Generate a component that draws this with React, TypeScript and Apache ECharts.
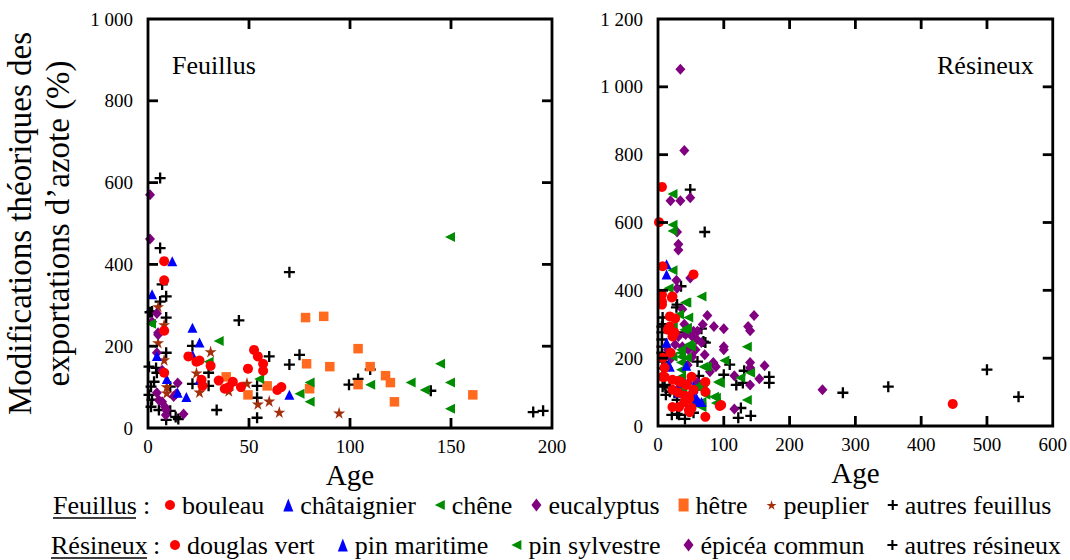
import React, { useEffect, useRef } from "react";
import * as echarts from "echarts";

// ---------- Feuillus (left panel) : [age, value] ----------
const bouleau = [[8,408],[8,361],[8,238],[8,135],[20,175],[24,162],[25.5,165],[31,152],[26.5,118],[27,103],[35,116],[38,96],[40,100],[42,113],[46,100],[49.5,145],[52.5,191],[54.4,175],[57,157],[57,140],[64,93],[66,100]];
const chataignier = [[12,408],[2,327],[22,245],[25.5,209],[22,179],[4.4,176],[9.3,120],[25.5,118],[19,76],[70,81],[14.7,86]];
const chene = [[1.5,255],[35,213],[30,162],[55,120],[149.5,467],[144.6,157],[149.5,111],[130,111],[137,93],[110,106],[80,111],[75,84],[80,64],[149.5,47]];
const eucalyptus = [[1,570],[1,462],[4.4,280],[2,260],[5,233],[5,228],[4.4,184],[7,141],[14.7,110],[4.4,86],[14,84],[12.7,77],[5.4,68],[7,64],[8.3,52],[8.8,32],[17.6,34],[9,44]];
const hetre = [[78,270],[87,273],[104,194],[78.5,157],[90,150],[110,150],[117.6,128],[120,111],[80,96],[104,106],[122,64],[160.8,81],[38.7,125],[59,103],[49.5,81]];
const peuplier = [[5,297],[8,253],[5,209],[8,167],[31,187],[24,135],[25.5,88],[49,110],[40,91],[60,66],[65,39],[54.4,59],[9.3,101],[9.3,86],[94.6,37]];
const autresFeuillus = [[6,611],[6,440],[7,351],[9,322],[6,309],[2,285],[1,283],[9,270],[45,263],[70,381],[22,201],[9,184],[0.5,150],[4,147],[60,175],[70,155],[30,135],[4.4,135],[3,113],[22,108],[30,103],[54,103],[54,74],[0.5,81],[2,69],[1.5,52],[5.4,44],[11,42],[34,44],[13.7,27],[15,22],[9,20],[54,25],[1.5,101],[11,101],[75,179],[99.5,106],[104,120],[110,143],[140,91],[190.7,39],[195.6,42]];

// ---------- Résineux (right panel) : [age, value] ----------
const douglasVert = [[6,705],[1.5,601],[7,471],[54,447],[6,388],[6,358],[21,379],[22,382],[26,317],[18,293],[25,276],[22,264],[19,216],[7,145],[7,201],[10,172],[22,107],[31,133],[41,89],[47,80],[22,56],[32,56],[48,41],[51,53],[72,27],[96,62],[31,98],[40,71],[448,65],[94,59],[72,130],[72,101],[18,323],[15,284],[10,145],[22,136],[35,130],[43,121],[54,107],[47,86],[47,47],[51,145],[6,367]];
const pinMaritime = [[13,477],[13,447],[13,246],[16,181],[43,178],[54,116],[31,101],[40,71],[62,71],[50,98],[18,175],[50,101],[40,80],[59,80],[66,71],[32,98]];
const pinSylvestre = [[22,684],[22,593],[22,575],[22,459],[16,406],[66,382],[41,364],[46,320],[22,293],[44,290],[135,234],[101,193],[74,175],[94,127],[140,157],[135,77],[88,83],[88,68],[68,127],[62,113],[66,71],[35,225],[35,204],[35,187],[35,166],[35,145],[37,107],[44,201],[50,234],[22,204],[125,142],[43,364],[32,329],[22,290],[40,284],[47,240],[35,216],[69,175],[59,116],[72,92],[85,86],[66,56],[50,71],[91,130]];
const epiceaCommun = [[34,1052],[40,812],[19,664],[34,664],[49,673],[29,572],[31,536],[31,519],[49,436],[28,430],[29,406],[37,344],[75,326],[146,326],[68,299],[85,293],[100,287],[137,293],[140,281],[54,279],[60,279],[52,264],[59,255],[31,264],[66,246],[100,234],[100,225],[37,234],[15,225],[46,225],[57,225],[71,210],[52,204],[84,187],[88,175],[79,160],[140,187],[140,172],[162,178],[116,148],[154,139],[140,121],[60,130],[46,127],[32,113],[37,121],[116,50],[54,98],[250,107],[93,65],[85,181],[40,300],[42,270],[26,240],[20,200],[45,180]];
const autresResineux = [[49,697],[71,572],[35,412],[28,350],[6,293],[6,276],[6,255],[6,234],[6,216],[40,276],[66,287],[72,246],[7,190],[60,190],[109,181],[131,163],[169,145],[169,127],[100,151],[119,121],[129,127],[62,148],[7,116],[18,113],[12,92],[21,33],[29,36],[41,21],[122,24],[126,53],[141,30],[25,98],[51,83],[500,166],[350,116],[281,98],[548,86],[7,320],[7,300],[7,170],[69,249],[10,121],[18,101],[29,77],[32,33],[54,39],[69,107],[29,358]];

// ---------- ticks ----------
const leftXTicks = { min: 0, max: 200, interval: 50 };
const leftYTicks = { min: 0, max: 1000, interval: 200 };
const rightXTicks = { min: 0, max: 600, interval: 100 };
const rightYTicks = { min: 0, max: 1200, interval: 200 };

const FONT = "Liberation Serif";

const SYM_LEFT_TRI = "path://M0,5L10,0L10,10Z";
const SYM_PLUS = "path://M3.55,0H5.45V3.55H9V5.45H5.45V9H3.55V5.45H0V3.55H3.55Z";
const SYM_STAR = "path://M50,0L61,35L98,35L68,57L79,91L50,70L21,91L32,57L2,35L39,35Z";

const fmt = (v: number) => String(v).replace(/\B(?=(\d{3})+(?!\d))/g, " ");

export default function App() {
  const ref = useRef<HTMLDivElement>(null);
  useEffect(() => {
    if (!ref.current) return;
    const chart = echarts.init(ref.current, undefined, { renderer: "svg" });

    const label = { color: "#000", fontFamily: FONT, fontSize: 19 };

    const mkX = (grid: number, t: any) => ({
      type: "value",
      gridIndex: grid,
      position: "bottom",
      min: t.min, max: t.max, interval: t.interval,
      axisLine: { show: false, onZero: false },
      axisTick: { show: false },
      splitLine: { show: false },
      axisLabel: { ...label, margin: 9, formatter: fmt },
      name: "Age",
      nameLocation: "middle",
      nameGap: 27,
      nameTextStyle: { color: "#000", fontFamily: FONT, fontSize: 29 },
    });
    const mkY = (grid: number, t: any, name?: string) => ({
      type: "value",
      gridIndex: grid,
      position: "left",
      min: t.min, max: t.max, interval: t.interval,
      axisLine: { show: false, onZero: false },
      axisTick: { show: false },
      splitLine: { show: false },
      axisLabel: { ...label, margin: 15, formatter: fmt },
      name: name || "",
      nameLocation: "middle",
      nameRotate: 90,
      nameGap: 71,
      nameTextStyle: { color: "#000", fontFamily: FONT, fontSize: 33, lineHeight: 38 },
    });

    const sc = (name: string, data: number[][], grid: number, symbol: string, color: string, size: any) => ({
      type: "scatter",
      name,
      data,
      xAxisIndex: grid,
      yAxisIndex: grid,
      symbol,
      symbolSize: size,
      itemStyle: { color, opacity: 1 },
      emphasis: { disabled: true },
    });

    // frame with inward ticks on all four sides, placed through the axes' scales
    const frame = (grid: number, xt: any, yt: any) => ({
      type: "custom",
      name: "_frame" + grid,
      xAxisIndex: grid,
      yAxisIndex: grid,
      data: [[xt.min, yt.min]],
      silent: true,
      clip: false,
      z: 10,
      renderItem: (params: any, api: any) => {
        const cs = params.coordSys;
        const L = 10;
        const st = { stroke: "#000", lineWidth: 2.8, fill: "none" };
        const children: any[] = [
          { type: "rect", shape: { x: cs.x, y: cs.y, width: cs.width, height: cs.height }, style: { ...st } },
        ];
        const top = cs.y, bottom = cs.y + cs.height, left = cs.x, right = cs.x + cs.width;
        for (let v = xt.min + xt.interval; v < xt.max; v += xt.interval) {
          const px = api.coord([v, yt.min])[0];
          children.push({ type: "line", shape: { x1: px, y1: bottom, x2: px, y2: bottom - L }, style: { ...st } });
          children.push({ type: "line", shape: { x1: px, y1: top, x2: px, y2: top + L }, style: { ...st } });
        }
        for (let v = yt.min + yt.interval; v < yt.max; v += yt.interval) {
          const py = api.coord([xt.min, v])[1];
          children.push({ type: "line", shape: { x1: left, y1: py, x2: left + L, y2: py }, style: { ...st } });
          children.push({ type: "line", shape: { x1: right, y1: py, x2: right - L, y2: py }, style: { ...st } });
        }
        return { type: "group", children };
      },
    });

    const RED = "#ff0000", BLUE = "#0000ff", GREEN = "#008c00", PURPLE = "#800080", ORANGE = "#ff6a1f", BROWN = "#a3300a", BLACK = "#000";
    const legendText = { color: "#000", fontFamily: FONT, fontSize: 26, padding: [0, 0, 0, 2] };

    const option: any = {
      animation: false,
      textStyle: { fontFamily: FONT },
      grid: [
        { left: 144, top: 19, width: 408, height: 409 },
        { left: 658, top: 19, width: 406, height: 407 },
      ],
      xAxis: [mkX(0, leftXTicks), mkX(1, rightXTicks)],
      yAxis: [
        mkY(0, leftYTicks, "Modifications théoriques des\nexportations d’azote (%)"),
        mkY(1, rightYTicks),
      ],
      legend: [
        {
          data: ["bouleau", "châtaignier", "chêne", "eucalyptus", "hêtre", "peuplier", "autres feuillus"],
          left: 165, top: 492, width: 1000, itemGap: 19, itemWidth: 10, itemHeight: 13, padding: 0,
          textStyle: legendText,
          selectedMode: false,
        },
        {
          data: ["douglas vert", "pin maritime", "pin sylvestre", "épicéa commun", "autres résineux"],
          left: 170, top: 532, width: 1000, itemGap: 23, itemWidth: 10, itemHeight: 13, padding: 0,
          textStyle: legendText,
          selectedMode: false,
        },
      ],
      graphic: [
        { type: "text", left: 172, top: 52, style: { text: "Feuillus", font: `26px "${FONT}"`, fill: "#000" } },
        { type: "text", left: 937, top: 52, style: { text: "Résineux", font: `26px "${FONT}"`, fill: "#000" } },
        { type: "text", left: 53, top: 492, style: { text: "Feuillus", font: `26px "${FONT}"`, fill: "#000" } },
        { type: "text", left: 143, top: 492, style: { text: ":", font: `26px "${FONT}"`, fill: "#000" } },
        { type: "line", shape: { x1: 53, y1: 518, x2: 136, y2: 518 }, style: { stroke: "#000", lineWidth: 1.5 } },
        { type: "text", left: 51, top: 532, style: { text: "Résineux", font: `26px "${FONT}"`, fill: "#000" } },
        { type: "text", left: 153, top: 532, style: { text: ":", font: `26px "${FONT}"`, fill: "#000" } },
        { type: "line", shape: { x1: 51, y1: 558, x2: 147, y2: 558 }, style: { stroke: "#000", lineWidth: 1.5 } },
      ],
      series: [
        frame(0, leftXTicks, leftYTicks),
        frame(1, rightXTicks, rightYTicks),
        sc("autres feuillus", autresFeuillus, 0, SYM_PLUS, BLACK, 11),
        sc("peuplier", peuplier, 0, SYM_STAR, BROWN, 12),
        sc("hêtre", hetre, 0, "rect", ORANGE, 9.5),
        sc("eucalyptus", eucalyptus, 0, "diamond", PURPLE, [10, 11]),
        sc("chêne", chene, 0, SYM_LEFT_TRI, GREEN, 10),
        sc("châtaignier", chataignier, 0, "triangle", BLUE, 10),
        sc("bouleau", bouleau, 0, "circle", RED, 10),
        sc("autres résineux", autresResineux, 1, SYM_PLUS, BLACK, 11),
        sc("épicéa commun", epiceaCommun, 1, "diamond", PURPLE, [10, 11]),
        sc("pin sylvestre", pinSylvestre, 1, SYM_LEFT_TRI, GREEN, 10),
        sc("pin maritime", pinMaritime, 1, "triangle", BLUE, 10),
        sc("douglas vert", douglasVert, 1, "circle", RED, 10),
      ],
    };
    chart.setOption(option);
    return () => chart.dispose();
  }, []);
  return (
    <div
      ref={ref}
      style={{ position: "fixed", left: 0, top: 0, width: 1070, height: 560, background: "#fff" }}
    />
  );
}
